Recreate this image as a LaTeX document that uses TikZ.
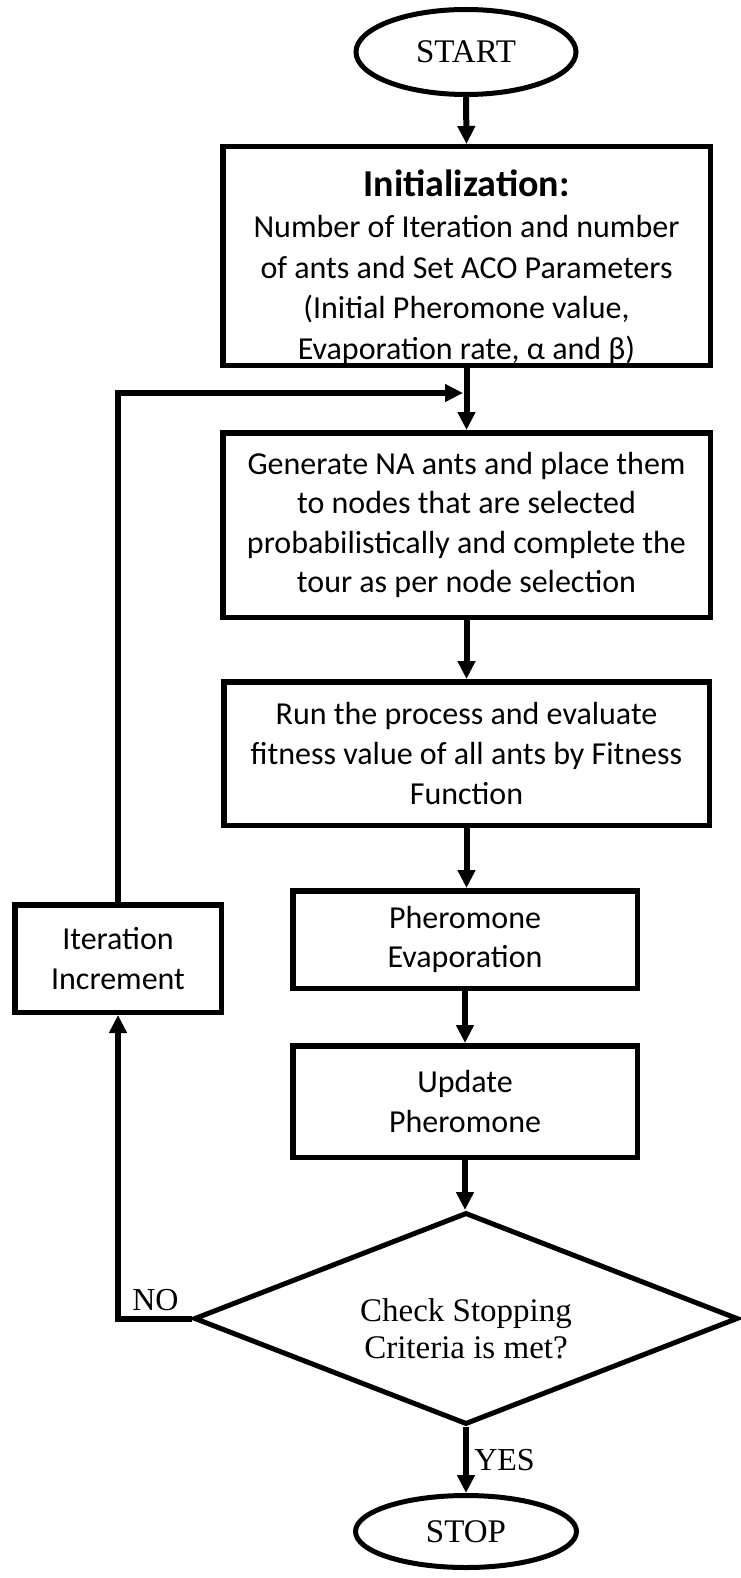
\documentclass[tikz,border=0pt]{standalone}
\usepackage{fontspec}
\setmainfont{Carlito}
\newfontfamily\tnr{Liberation Serif}
\usetikzlibrary{shapes.geometric,arrows.meta}
\begin{document}
\begin{tikzpicture}[x=1pt,y=-1pt,
  box/.style={draw, rectangle, line width=5.5pt, align=center, inner sep=0pt,
    font=\fontsize{32}{39.5}\selectfont},
  term/.style={draw, ellipse, line width=5pt, inner sep=0pt,
    font=\tnr\fontsize{33}{37}\selectfont},
  decision/.style={draw, diamond, aspect=2.6, line width=5pt, inner sep=0pt, align=center,
    font=\tnr\fontsize{33}{37}\selectfont},
  flow/.style={line width=6pt, line join=miter, -{Triangle[length=18pt,width=17pt]}},
  lab/.style={font=\tnr\fontsize{32}{37}\selectfont, inner sep=0pt, anchor=base}]
\useasboundingbox (0,0) rectangle (740,1578);

\node[term, minimum width=220pt, minimum height=85pt] (start) at (466,52) {START};
\node[box, minimum width=487.5pt, minimum height=218.5pt, font=\fontsize{32}{40.5}\selectfont] (init) at (466.5,256)
  {\rule{0pt}{49pt}{\bfseries\fontsize{38}{40}\selectfont Initialization:}\\[1pt]
   Number of Iteration and number\\
   of ants and Set ACO Parameters\\
   (Initial Pheromone value,\\
   Evaporation rate, α and β)};
\node[box, minimum width=487.5pt, minimum height=184.5pt] (gen) at (466.5,525)
  {Generate NA ants and place them\\
   to nodes that are selected\\
   probabilistically and complete the\\
   tour as per node selection};
\node[box, minimum width=485.5pt, minimum height=143.5pt] (run) at (466.5,753.5)
  {Run the process and evaluate\\
   fitness value of all ants by Fitness\\
   Function};
\node[box, minimum width=344.5pt, minimum height=97.5pt] (evap) at (465,939.5)
  {Pheromone\\ Evaporation};
\node[box, minimum width=344.5pt, minimum height=111.5pt] (upd) at (465,1101.5)
  {Update\\ Pheromone};
\node[box, minimum width=206.5pt, minimum height=107.5pt] (iter) at (118,958.5)
  {Iteration\\ Increment};
\node[decision, minimum width=544pt, minimum height=212pt] (dec) at (466,1318.5)
  {\rule{0pt}{44pt}Check Stopping\\ Criteria is met?};
\node[term, minimum width=221pt, minimum height=72pt] (stop) at (466,1531.5) {STOP};

\coordinate (join) at (463,393);

\draw[flow] (start.south) -- (init.north);
\draw[flow] (init.south) -- (gen.north);
\draw[flow] (gen.south) -- (run.north);
\draw[flow] (run.south) -- (run.south |- evap.north);
\draw[flow] (evap.south) -- (evap.south |- upd.north);
\draw[flow] (upd.south) -- (upd.south |- dec.north);
\draw[flow] (dec.south) -- (dec.south |- stop.north);
\draw[flow] (dec.west) -| (iter.south);
\draw[flow] (iter.north) |- (join);

\node[lab] (no) at (155.5,1310) {NO};
\node[lab] (yes) at (504.5,1470) {YES};
\end{tikzpicture}
\end{document}
